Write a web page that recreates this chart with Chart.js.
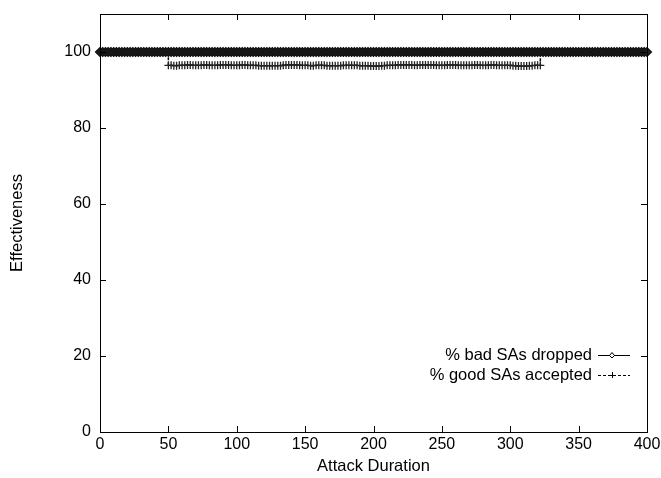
<!DOCTYPE html>
<html><head><meta charset="utf-8">
<script src="https://cdn.jsdelivr.net/npm/chart.js@4/dist/chart.umd.min.js"></script>
<style>html,body{margin:0;padding:0;background:#fff}#wrap{width:661px;height:478px}</style>
</head><body><div id="wrap"><canvas id="c" width="661" height="478"></canvas></div>
<script>
const xTicks = [0, 50, 100, 150, 200, 250, 300, 350, 400];
const yTicks = [0, 20, 40, 60, 80, 100];
const seriesNames = ['% bad SAs dropped', '% good SAs accepted'];

const badX = [0,2,4,6,8,10,12,14,16,18,20,22,24,26,28,30,32,34,36,38,40,42,44,46,48,50,52,54,56,58,60,62,64,66,68,70,72,74,76,78,80,82,84,86,88,90,92,94,96,98,100,102,104,106,108,110,112,114,116,118,120,122,124,126,128,130,132,134,136,138,140,142,144,146,148,150,152,154,156,158,160,162,164,166,168,170,172,174,176,178,180,182,184,186,188,190,192,194,196,198,200,202,204,206,208,210,212,214,216,218,220,222,224,226,228,230,232,234,236,238,240,242,244,246,248,250,252,254,256,258,260,262,264,266,268,270,272,274,276,278,280,282,284,286,288,290,292,294,296,298,300,302,304,306,308,310,312,314,316,318,320,322,324,326,328,330,332,334,336,338,340,342,344,346,348,350,352,354,356,358,360,362,364,366,368,370,372,374,376,378,380,382,384,386,388,390,392,394,396,398,400];
const badY = [100,100,100,100,100,100,100,100,100,100,100,100,100,100,100,100,100,100,100,100,100,100,100,100,100,100,100,100,100,100,100,100,100,100,100,100,100,100,100,100,100,100,100,100,100,100,100,100,100,100,100,100,100,100,100,100,100,100,100,100,100,100,100,100,100,100,100,100,100,100,100,100,100,100,100,100,100,100,100,100,100,100,100,100,100,100,100,100,100,100,100,100,100,100,100,100,100,100,100,100,100,100,100,100,100,100,100,100,100,100,100,100,100,100,100,100,100,100,100,100,100,100,100,100,100,100,100,100,100,100,100,100,100,100,100,100,100,100,100,100,100,100,100,100,100,100,100,100,100,100,100,100,100,100,100,100,100,100,100,100,100,100,100,100,100,100,100,100,100,100,100,100,100,100,100,100,100,100,100,100,100,100,100,100,100,100,100,100,100,100,100,100,100,100,100,100,100,100,100,100,100];

const goodX = [50,50,52,54,56,58,60,62,64,66,68,70,72,74,76,78,80,82,84,86,88,90,92,94,96,98,100,102,104,106,108,110,112,114,116,118,120,122,124,126,128,130,132,134,136,138,140,142,144,146,148,150,152,154,156,158,160,162,164,166,168,170,172,174,176,178,180,182,184,186,188,190,192,194,196,198,200,202,204,206,208,210,212,214,216,218,220,222,224,226,228,230,232,234,236,238,240,242,244,246,248,250,252,254,256,258,260,262,264,266,268,270,272,274,276,278,280,282,284,286,288,290,292,294,296,298,300,302,304,306,308,310,312,314,316,318,320,322,322];
const goodY = [98.6,96.5,96.5,96.4,96.4,96.5,96.5,96.5,96.6,96.6,96.5,96.5,96.5,96.5,96.6,96.6,96.5,96.5,96.5,96.5,96.6,96.6,96.6,96.6,96.5,96.5,96.5,96.5,96.6,96.6,96.5,96.5,96.5,96.5,96.4,96.4,96.4,96.4,96.4,96.4,96.4,96.4,96.4,96.5,96.6,96.6,96.6,96.6,96.6,96.5,96.5,96.5,96.5,96.4,96.4,96.5,96.5,96.5,96.5,96.4,96.4,96.4,96.4,96.4,96.4,96.5,96.5,96.5,96.5,96.5,96.5,96.4,96.4,96.4,96.4,96.3,96.3,96.3,96.3,96.4,96.4,96.5,96.5,96.5,96.5,96.6,96.6,96.6,96.6,96.6,96.6,96.5,96.5,96.6,96.6,96.6,96.6,96.6,96.6,96.5,96.5,96.5,96.5,96.6,96.6,96.6,96.6,96.5,96.5,96.5,96.5,96.5,96.5,96.6,96.6,96.5,96.5,96.5,96.5,96.6,96.6,96.5,96.5,96.5,96.5,96.5,96.5,96.4,96.4,96.3,96.3,96.3,96.3,96.4,96.4,96.5,96.5,96.5,98.6];

const toPts = (xs, ys) => xs.map((x, i) => ({x: x, y: ys[i]}));
const goodRadius = goodX.map((x, i) => (i === 0 || i === goodX.length - 1) ? 0 : 4);

const FONT = 'Liberation Sans, Arial, sans-serif';

const framePlugin = {
  id: 'frame',
  afterDraw(chart) {
    const ctx = chart.ctx, a = chart.chartArea;
    const xs = chart.scales.x, ys = chart.scales.y;
    ctx.save();
    ctx.strokeStyle = '#000';
    ctx.lineWidth = 1;
    ctx.strokeRect(Math.round(a.left) + 0.5, Math.round(a.top) + 0.5, Math.round(a.right - a.left), Math.round(a.bottom - a.top));
    const L = 6;
    ctx.beginPath();
    xTicks.forEach(v => {
      const p = Math.round(xs.getPixelForValue(v)) + 0.5;
      ctx.moveTo(p, a.bottom); ctx.lineTo(p, a.bottom - L);
      ctx.moveTo(p, a.top); ctx.lineTo(p, a.top + L);
    });
    yTicks.forEach(v => {
      const p = Math.round(ys.getPixelForValue(v)) + 0.5;
      ctx.moveTo(a.left, p); ctx.lineTo(a.left + L, p);
      ctx.moveTo(a.right, p); ctx.lineTo(a.right - L, p);
    });
    ctx.stroke();
    // legend
    ctx.font = '16.5px ' + FONT;
    ctx.fillStyle = '#000';
    ctx.textAlign = 'right';
    ctx.textBaseline = 'middle';
    const rows = [355, 375];
    const tx = 592, l0 = 598, l1 = 630, mx = 612;
    rows.forEach((y, i) => {
      ctx.fillText(seriesNames[i], tx, y);
      ctx.beginPath();
      ctx.setLineDash(i === 0 ? [] : [3, 2]);
      ctx.moveTo(l0, y + 0.5); ctx.lineTo(l1, y + 0.5);
      ctx.stroke();
      ctx.setLineDash([]);
      ctx.beginPath();
      if (i === 0) {
        ctx.fillStyle = '#fff';
        ctx.moveTo(mx, y - 2.5); ctx.lineTo(mx + 2.5, y + 0.5); ctx.lineTo(mx, y + 3); ctx.lineTo(mx - 2.5, y + 0.5); ctx.closePath();
        ctx.fill(); ctx.stroke();
        ctx.fillStyle = '#000';
      } else {
        ctx.moveTo(mx - 3, y + 0.5); ctx.lineTo(mx + 3, y + 0.5);
        ctx.moveTo(mx + 0.5, y - 3); ctx.lineTo(mx + 0.5, y + 3);
        ctx.stroke();
      }
    });
    ctx.restore();
  }
};

new Chart(document.getElementById('c'), {
  type: 'scatter',
  data: {
    datasets: [
      {
        label: seriesNames[0],
        data: toPts(badX, badY),
        showLine: true,
        borderColor: '#000',
        borderWidth: 1,
        pointStyle: 'rectRot',
        pointRadius: 4.5,
        pointBorderColor: '#111',
        pointBackgroundColor: '#222',
        pointBorderWidth: 1.2,
        clip: false
      },
      {
        label: seriesNames[1],
        data: toPts(goodX, goodY),
        showLine: true,
        borderColor: '#111',
        borderWidth: 1.5,
        borderDash: [3, 2],
        pointStyle: 'cross',
        pointRadius: goodRadius,
        pointBorderColor: '#222',
        pointBorderWidth: 1.3
      }
    ]
  },
  options: {
    responsive: false,
    animation: false,
    events: [],
    layout: { padding: { top: 14, right: 14, left: 0, bottom: 0 } },
    plugins: { legend: { display: false }, tooltip: { enabled: false } },
    scales: {
      x: {
        type: 'linear', min: 0, max: 400,
        afterBuildTicks: s => { s.ticks = xTicks.map(v => ({value: v})); },
        afterFit: s => { s.height = 46; s.paddingLeft = 0; s.paddingRight = 0; },
        grid: { display: false, drawTicks: false },
        border: { display: false },
        ticks: { color: '#000', font: { family: FONT, size: 16 }, padding: 3, maxRotation: 0, autoSkip: false },
        title: { display: true, text: 'Attack Duration', color: '#000', font: { family: FONT, size: 16.5 }, padding: { top: 0, bottom: 2 } }
      },
      y: {
        type: 'linear', min: 0, max: 110,
        afterBuildTicks: s => { s.ticks = yTicks.map(v => ({value: v})); },
        afterFit: s => { s.width = 100; s.paddingTop = 0; s.paddingBottom = 0; },
        grid: { display: false, drawTicks: false },
        border: { display: false },
        ticks: { color: '#000', font: { family: FONT, size: 16 }, padding: 9 },
        title: { display: true, text: 'Effectiveness', color: '#000', font: { family: FONT, size: 16.5 }, padding: { top: 8, bottom: 0 } }
      }
    }
  },
  plugins: [framePlugin]
});
</script>
</body></html>
